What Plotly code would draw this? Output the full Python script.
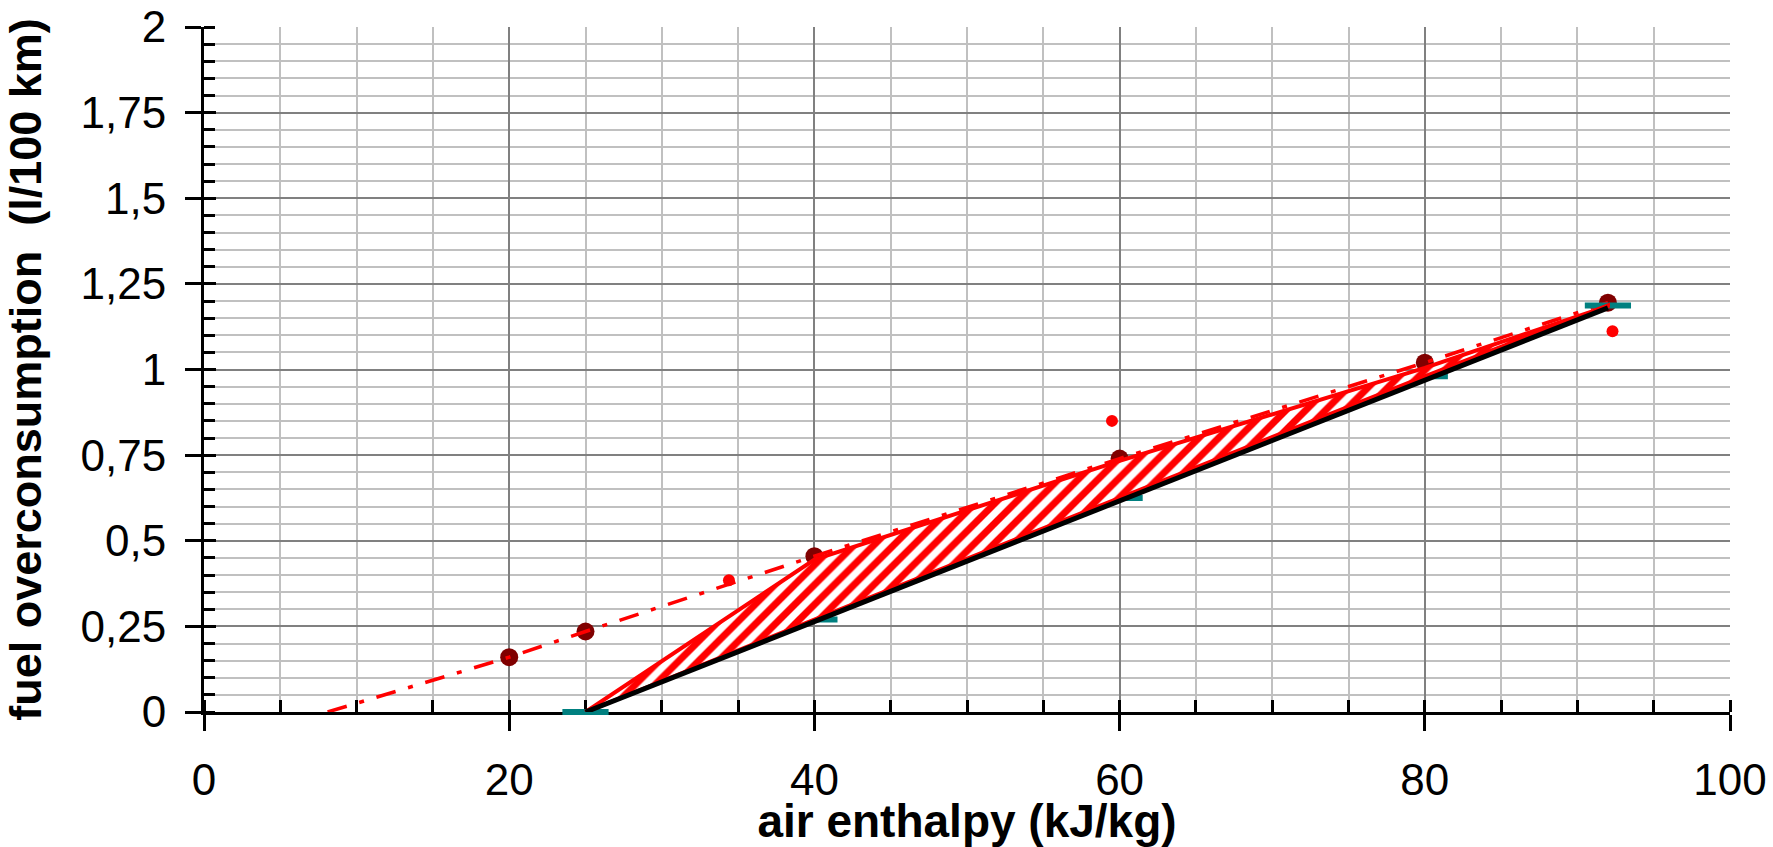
import plotly.graph_objects as go

# ---- data ----
measured_x = [20, 25, 40, 60, 80, 92]
measured_y = [0.16, 0.235, 0.455, 0.74, 1.02, 1.195]

trend_x = [8.1, 20, 25, 40, 60, 80, 92]
trend_y = [0.0, 0.16, 0.235, 0.455, 0.74, 1.02, 1.195]

extra_x = [34.4, 59.5, 92.3]
extra_y = [0.385, 0.85, 1.112]

model_x = [25, 40, 60, 80, 92]
model_y = [0.0, 0.27, 0.625, 0.98, 1.187]

band_upper_x = [25, 40, 60, 80, 92]
band_upper_y = [0.0, 0.445, 0.733, 1.005, 1.185]

fit_x = [25, 92]
fit_y = [0.0, 1.18]

x_tick_vals = [0, 20, 40, 60, 80, 100]
x_tick_text = ["0", "20", "40", "60", "80", "100"]
y_tick_vals = [0, 0.25, 0.5, 0.75, 1, 1.25, 1.5, 1.75, 2]
y_tick_text = ["0", "0,25", "0,5", "0,75", "1", "1,25", "1,5", "1,75", "2"]

FONT = "Arial, Liberation Sans, sans-serif"

fig = go.Figure()

fig.add_trace(go.Scatter(x=measured_x, y=measured_y, mode="markers",
                         marker=dict(color="#800000", size=18),
                         showlegend=False, cliponaxis=False))
fig.add_trace(go.Scatter(x=trend_x, y=trend_y, mode="lines",
                         line=dict(color="#ff0000", width=3.5, dash="20px,13px,5px,13px"),
                         showlegend=False, cliponaxis=False))
fig.add_trace(go.Scatter(x=model_x, y=model_y, mode="markers",
                         marker=dict(symbol="line-ew", size=33,
                                     line=dict(color="#008080", width=6)),
                         showlegend=False, cliponaxis=False))
poly_x = band_upper_x + model_x[::-1]
poly_y = band_upper_y + model_y[::-1]
fig.add_trace(go.Scatter(x=poly_x, y=poly_y, mode="lines", fill="toself",
                         fillcolor="white",
                         fillpattern=dict(shape="/", fgcolor="#ff0000", bgcolor="white",
                                          size=14, solidity=0.5),
                         line=dict(color="#ff0000", width=4),
                         showlegend=False))
fig.add_trace(go.Scatter(x=fit_x, y=fit_y, mode="lines",
                         line=dict(color="black", width=5),
                         showlegend=False, cliponaxis=False))
fig.add_trace(go.Scatter(x=extra_x, y=extra_y, mode="markers",
                         marker=dict(color="#ff0000", size=12),
                         showlegend=False, cliponaxis=False))
fig.add_trace(go.Scatter(x=[None], y=[None], xaxis="x2", yaxis="y2",
                         showlegend=False, hoverinfo="skip"))

fig.update_layout(
    template="none",
    width=1773, height=847,
    margin=dict(l=204, r=43, t=27, b=135, autoexpand=False),
    paper_bgcolor="white", plot_bgcolor="white",
    font=dict(family=FONT, size=44, color="black"),
    xaxis=dict(
        range=[0, 100], tickmode="array", tickvals=x_tick_vals, ticktext=x_tick_text,
        automargin=False,
        showgrid=True, gridcolor="#808080", gridwidth=2,
        ticks="outside", ticklen=16, tickwidth=3, tickcolor="black",
        showline=True, linecolor="black", linewidth=3,
        zeroline=False, layer="below traces",
        ticklabelstandoff=11,
        minor=dict(dtick=5, tick0=0, showgrid=True, gridcolor="#c0c0c0", gridwidth=2,
                   ticks="inside", ticklen=12, tickwidth=3, tickcolor="black"),
        title=dict(text="<b>air enthalpy (kJ/kg)</b>", font=dict(size=46, family=FONT),
                   standoff=26),
    ),
    yaxis=dict(
        range=[0, 2], tickmode="array", tickvals=y_tick_vals, ticktext=y_tick_text,
        automargin=False,
        showgrid=True, gridcolor="#808080", gridwidth=2,
        ticks="outside", ticklen=16, tickwidth=3, tickcolor="black",
        showline=True, linecolor="black", linewidth=3,
        zeroline=False, layer="below traces",
        ticklabelstandoff=10,
        minor=dict(dtick=0.05, tick0=0, showgrid=True, gridcolor="#c0c0c0", gridwidth=2,
                   ticks="inside", ticklen=11, tickwidth=3, tickcolor="black"),
        title=dict(text="<b>fuel overconsumption \u00a0(l/100 km)</b>",
                   font=dict(size=45, family=FONT), standoff=33),
    ),
    xaxis2=dict(range=[0, 100], overlaying="x", anchor="y2", tickmode="array",
                tickvals=x_tick_vals, showticklabels=False, showgrid=False,
                automargin=False,
                zeroline=False, showline=False, ticks="inside", ticklen=12,
                tickwidth=3, tickcolor="black", side="bottom"),
    yaxis2=dict(range=[0, 2], overlaying="y", anchor="x2", tickmode="array",
                tickvals=y_tick_vals, showticklabels=False, showgrid=False,
                automargin=False,
                zeroline=False, showline=False, ticks="inside", ticklen=12,
                tickwidth=3, tickcolor="black", side="left"),
)

fig.write_html("out.html")
